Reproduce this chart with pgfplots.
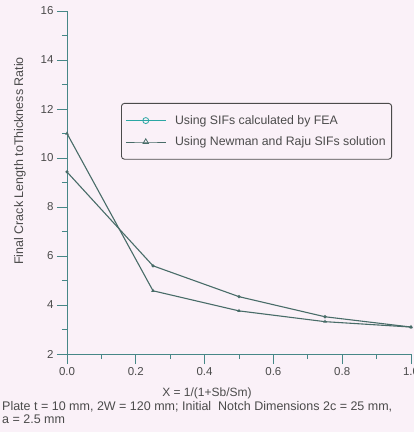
\documentclass[border=0pt]{standalone}
\usepackage{fontspec}
\setmainfont{Liberation Sans}
\usepackage{pgfplots}
\pgfplotsset{compat=1.18}
\usetikzlibrary{calc,backgrounds}
\definecolor{bgpink}{RGB}{250,241,248}
\definecolor{axteal}{RGB}{70,135,135}
\definecolor{lineteal}{RGB}{72,108,104}
\definecolor{txtgray}{RGB}{75,75,75}

\begin{document}
\begin{tikzpicture}
\begin{axis}[
  scale only axis, width=344pt, height=343pt,
  xmin=0, xmax=1, ymin=2, ymax=16,
  axis x line=bottom, axis y line=left,
  axis line style={-, axteal, line width=0.9pt},
  xtick={0,0.2,...,1.0}, ytick={2,4,...,16},
  minor x tick num=1, minor y tick num=1,
  tick align=outside,
  major tick length=10pt, minor tick length=5pt,
  every tick/.style={axteal, line width=0.9pt},
  tick label style={font=\fontsize{11.5}{13}\selectfont, txtgray},
  /pgf/number format/assume math mode=true,
  xticklabel style={/pgf/number format/.cd, fixed, fixed zerofill, precision=1},
  xlabel={X = 1/(1+Sb/Sm)},
  xlabel style={at={(axis description cs:0.407,-0.114)}, anchor=center,
    font=\fontsize{12}{14}\selectfont, txtgray},
  ylabel={Final Crack Length toThickness Ratio},
  ylabel style={at={(axis description cs:-0.137,0.563)}, anchor=center,
    font=\fontsize{12.5}{14}\selectfont, txtgray},
  clip=false,
  legend style={at={(0.157,0.732)}, anchor=north west,
    draw=txtgray, line width=0.9pt, rounded corners=3pt,
    fill=bgpink, font=\fontsize{12.3}{14}\selectfont, text=txtgray,
    inner xsep=4pt, inner ysep=10pt, row sep=7pt,
    /tikz/every odd column/.append style={column sep=7pt}},
  legend cell align=left,
  legend image code/.code={
    \draw[#1, mark repeat=2, mark phase=2] plot coordinates {(0cm,0cm) (0.7cm,0cm) (1.4cm,0cm)};},
]
\addlegendimage{lineteal!60!cyan, line width=0.8pt, mark=o, mark size=3pt}
\addlegendentry{Using SIFs calculated by FEA}
\addlegendimage{lineteal, line width=0.8pt, mark=triangle, mark size=3.2pt}
\addlegendentry{Using Newman and Raju SIFs solution}

\addplot[lineteal, line width=1.1pt, mark=o, mark size=1pt, forget plot]
  coordinates {(0,9.43) (0.25,5.6) (0.5,4.34) (0.75,3.52) (1.0,3.1)};
\addplot[lineteal, line width=1.1pt, mark=triangle, mark size=1pt, forget plot]
  coordinates {(0,11.0) (0.25,4.58) (0.5,3.76) (0.75,3.32) (1.0,3.1)};

\node[anchor=north west, align=left, font=\fontsize{12.5}{13.5}\selectfont, text=txtgray, inner sep=0pt]
  at (rel axis cs:-0.189,-0.137)
  {Plate t = 10 mm, 2W = 120 mm; Initial\ \ Notch Dimensions 2c = 25 mm,\\ a = 2.5 mm};
\end{axis}
\pgfresetboundingbox
\path[use as bounding box] ($(current axis.south west)+(-67pt,-78pt)$) rectangle ($(current axis.north east)+(3pt,11pt)$);
\begin{scope}[on background layer]
\fill[bgpink] ($(current axis.south west)+(-67pt,-78pt)$) rectangle ($(current axis.north east)+(3pt,11pt)$);
\end{scope}
\end{tikzpicture}
\end{document}
